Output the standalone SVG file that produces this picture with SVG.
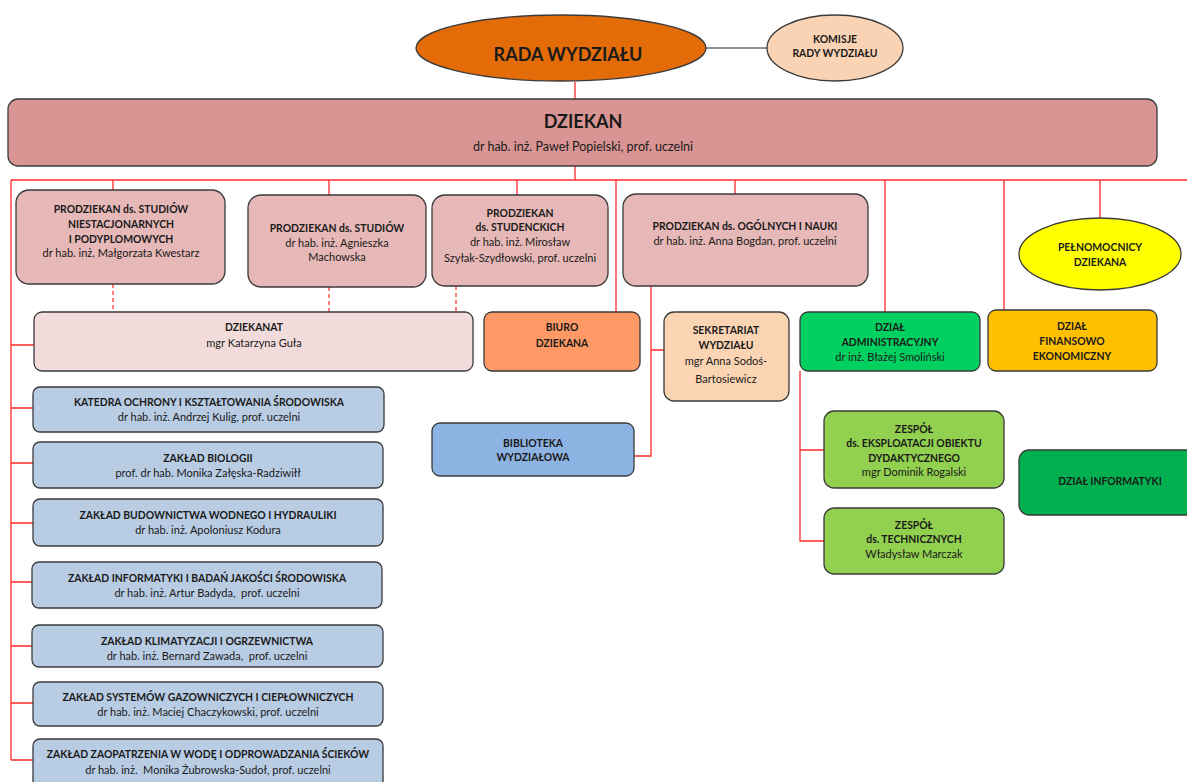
<svg xmlns="http://www.w3.org/2000/svg" width="1187" height="782" viewBox="0 0 1187 782">
<style>
  .bx { stroke: #3a3a3a; stroke-width: 1.3; }
  .t { font-family: Lato, "Open Sans", "Liberation Sans", sans-serif; font-size: 11px; fill: #1a1a1a; text-anchor: middle; white-space: pre; }
  .b { font-weight: bold; font-size: 10.4px; }
  .big { font-size: 18px; font-weight: bold; }
  .red { stroke: #ff2a2a; stroke-width: 1.3; fill: none; }
  .dash { stroke: #ff2a2a; stroke-width: 1.2; stroke-dasharray: 4 3; fill: none; }
</style>
<rect width="1187" height="782" fill="#ffffff"/>

<g id="connectors">
  <line x1="706" y1="48" x2="767" y2="48" stroke="#222" stroke-width="1.2"/>
  <path class="red" d="M575 82 V99 M575 166 V180 M11 180 H1187"/>
  <path class="red" d="M11 180 V760 M11 345 H34 M11 408 H33 M11 463 H33 M11 523 H33 M11 582 H33 M11 646 H33 M11 703 H33 M11 760 H33"/>
  <path class="red" d="M113 180 V190 M329 180 V195 M517 180 V195 M616 180 V312 M735 180 V194 M885 180 V312 M1004 180 V310 M1100 180 V218"/>
  <path class="dash" d="M113 284 V312 M329 287 V312 M456 286 V312"/>
  <path class="red" d="M651 286 V456 H634 M651 350 H664"/>
  <path class="red" d="M800 371 V541 H824 M800 450 H824"/>
</g>

<g id="rada">
  <ellipse cx="561" cy="48" rx="145" ry="33" fill="#e36c09" class="bx"/>
  <text class="t big" x="568" y="61">RADA WYDZIAŁU</text>
</g>
<g id="komisje">
  <ellipse cx="835" cy="48" rx="68" ry="33" fill="#fad3b4" class="bx"/>
  <text class="t b" x="835" y="43">KOMISJE</text>
  <text class="t b" x="835" y="57">RADY WYDZIAŁU</text>
</g>
<g id="dziekan">
  <rect x="8" y="99" width="1149" height="67" rx="10" fill="#d99594" class="bx"/>
  <text class="t big" x="583" y="128">DZIEKAN</text>
  <text class="t" x="583" y="151" style="font-size:12.5px">dr hab. inż. Paweł Popielski, prof. uczelni</text>
</g>

<g id="prodziekan1">
  <rect x="16" y="190" width="209" height="94" rx="13" fill="#e6b8b7" class="bx"/>
  <text class="t b" x="121" y="213">PRODZIEKAN ds. STUDIÓW</text>
  <text class="t b" x="121" y="228">NIESTACJONARNYCH</text>
  <text class="t b" x="121" y="243">I PODYPLOMOWYCH</text>
  <text class="t" x="121" y="257">dr hab. inż. Małgorzata Kwestarz</text>
</g>
<g id="prodziekan2">
  <rect x="248" y="195" width="178" height="92" rx="13" fill="#e6b8b7" class="bx"/>
  <text class="t b" x="337" y="232">PRODZIEKAN ds. STUDIÓW</text>
  <text class="t" x="337" y="247">dr hab. inż. Agnieszka</text>
  <text class="t" x="337" y="261">Machowska</text>
</g>
<g id="prodziekan3">
  <rect x="432" y="195" width="176" height="91" rx="13" fill="#e6b8b7" class="bx"/>
  <text class="t b" x="520" y="217">PRODZIEKAN</text>
  <text class="t b" x="520" y="231">ds. STUDENCKICH</text>
  <text class="t" x="520" y="246">dr hab. inż. Mirosław</text>
  <text class="t" x="520" y="262">Szyłak-Szydłowski, prof. uczelni</text>
</g>
<g id="prodziekan4">
  <rect x="623" y="194" width="245" height="92" rx="13" fill="#e6b8b7" class="bx"/>
  <text class="t b" x="745" y="230">PRODZIEKAN ds. OGÓLNYCH I NAUKI</text>
  <text class="t" x="745" y="245">dr hab. inż. Anna Bogdan, prof. uczelni</text>
</g>
<g id="pelnomocnicy">
  <ellipse cx="1100" cy="254" rx="81" ry="36" fill="#ffff00" class="bx"/>
  <text class="t b" x="1100" y="251">PEŁNOMOCNICY</text>
  <text class="t b" x="1100" y="266">DZIEKANA</text>
</g>

<g id="dziekanat">
  <rect x="34" y="312" width="439" height="59" rx="8" fill="#f2dcdb" class="bx"/>
  <text class="t b" x="254" y="331">DZIEKANAT</text>
  <text class="t" x="254" y="347">mgr Katarzyna Guła</text>
</g>
<g id="biuro">
  <rect x="484" y="312" width="156" height="59" rx="8" fill="#ff9966" class="bx"/>
  <text class="t b" x="562" y="331">BIURO</text>
  <text class="t b" x="562" y="347">DZIEKANA</text>
</g>
<g id="sekretariat">
  <rect x="664" y="312" width="125" height="89" rx="10" fill="#fbd4b4" class="bx"/>
  <text class="t b" x="726" y="334">SEKRETARIAT</text>
  <text class="t b" x="726" y="349">WYDZIAŁU</text>
  <text class="t" x="726" y="365">mgr Anna Sodoś-</text>
  <text class="t" x="726" y="383">Bartosiewicz</text>
</g>
<g id="administracyjny">
  <rect x="800" y="312" width="180" height="59" rx="8" fill="#00d060" class="bx"/>
  <text class="t b" x="890" y="331">DZIAŁ</text>
  <text class="t b" x="890" y="346">ADMINISTRACYJNY</text>
  <text class="t" x="890" y="361">dr inż. Błażej Smoliński</text>
</g>
<g id="finansowo">
  <rect x="988" y="310" width="169" height="61" rx="8" fill="#ffc000" class="bx"/>
  <text class="t b" x="1072" y="330">DZIAŁ</text>
  <text class="t b" x="1072" y="345">FINANSOWO</text>
  <text class="t b" x="1072" y="360">EKONOMICZNY</text>
</g>
<g id="biblioteka">
  <rect x="432" y="423" width="202" height="53" rx="8" fill="#8db3e2" class="bx"/>
  <text class="t b" x="533" y="447">BIBLIOTEKA</text>
  <text class="t b" x="533" y="461">WYDZIAŁOWA</text>
</g>
<g id="zespol1">
  <rect x="824" y="411" width="180" height="77" rx="10" fill="#92d050" class="bx"/>
  <text class="t b" x="914" y="433">ZESPÓŁ</text>
  <text class="t b" x="914" y="447">ds. EKSPLOATACJI OBIEKTU</text>
  <text class="t b" x="914" y="462">DYDAKTYCZNEGO</text>
  <text class="t" x="914" y="476">mgr Dominik Rogalski</text>
</g>
<g id="zespol2">
  <rect x="824" y="508" width="180" height="66" rx="10" fill="#92d050" class="bx"/>
  <text class="t b" x="914" y="529">ZESPÓŁ</text>
  <text class="t b" x="914" y="543">ds. TECHNICZNYCH</text>
  <text class="t" x="914" y="558">Władysław Marczak</text>
</g>
<g id="informatyki">
  <rect x="1019" y="450" width="180" height="65" rx="10" fill="#00b050" class="bx"/>
  <text class="t b" x="1110" y="485">DZIAŁ INFORMATYKI</text>
</g>

<g id="katedra">
  <rect x="33" y="387" width="351" height="45" rx="7" fill="#b8cce4" class="bx"/>
  <text class="t b" x="209" y="406">KATEDRA OCHRONY I KSZTAŁTOWANIA ŚRODOWISKA</text>
  <text class="t" x="209" y="421">dr hab. inż. Andrzej Kulig, prof. uczelni</text>
</g>
<g id="biologii">
  <rect x="33" y="442" width="350" height="46" rx="7" fill="#b8cce4" class="bx"/>
  <text class="t b" x="208" y="462">ZAKŁAD BIOLOGII</text>
  <text class="t" x="208" y="477">prof. dr hab. Monika Załęska-Radziwiłł</text>
</g>
<g id="budownictwa">
  <rect x="33" y="499" width="350" height="47" rx="7" fill="#b8cce4" class="bx"/>
  <text class="t b" x="208" y="519">ZAKŁAD BUDOWNICTWA WODNEGO I HYDRAULIKI</text>
  <text class="t" x="208" y="534">dr hab. inż. Apoloniusz Kodura</text>
</g>
<g id="informatyki_badan">
  <rect x="32" y="562" width="350" height="46" rx="7" fill="#b8cce4" class="bx"/>
  <text class="t b" x="207" y="582">ZAKŁAD INFORMATYKI I BADAŃ JAKOŚCI ŚRODOWISKA</text>
  <text class="t" x="207" y="597">dr hab. inż. Artur Badyda,  prof. uczelni</text>
</g>
<g id="klimatyzacji">
  <rect x="32" y="625" width="351" height="42" rx="7" fill="#b8cce4" class="bx"/>
  <text class="t b" x="207" y="645">ZAKŁAD KLIMATYZACJI I OGRZEWNICTWA</text>
  <text class="t" x="207" y="660">dr hab. inż. Bernard Zawada,  prof. uczelni</text>
</g>
<g id="gazowniczych">
  <rect x="33" y="682" width="350" height="44" rx="7" fill="#b8cce4" class="bx"/>
  <text class="t b" x="208" y="701">ZAKŁAD SYSTEMÓW GAZOWNICZYCH I CIEPŁOWNICZYCH</text>
  <text class="t" x="208" y="716">dr hab. inż. Maciej Chaczykowski, prof. uczelni</text>
</g>
<g id="zaopatrzenia">
  <rect x="33" y="739" width="350" height="50" rx="7" fill="#b8cce4" class="bx"/>
  <text class="t b" x="208" y="758">ZAKŁAD ZAOPATRZENIA W WODĘ I ODPROWADZANIA ŚCIEKÓW</text>
  <text class="t" x="208" y="774">dr hab. inż.  Monika Żubrowska-Sudoł, prof. uczelni</text>
</g>
</svg>
